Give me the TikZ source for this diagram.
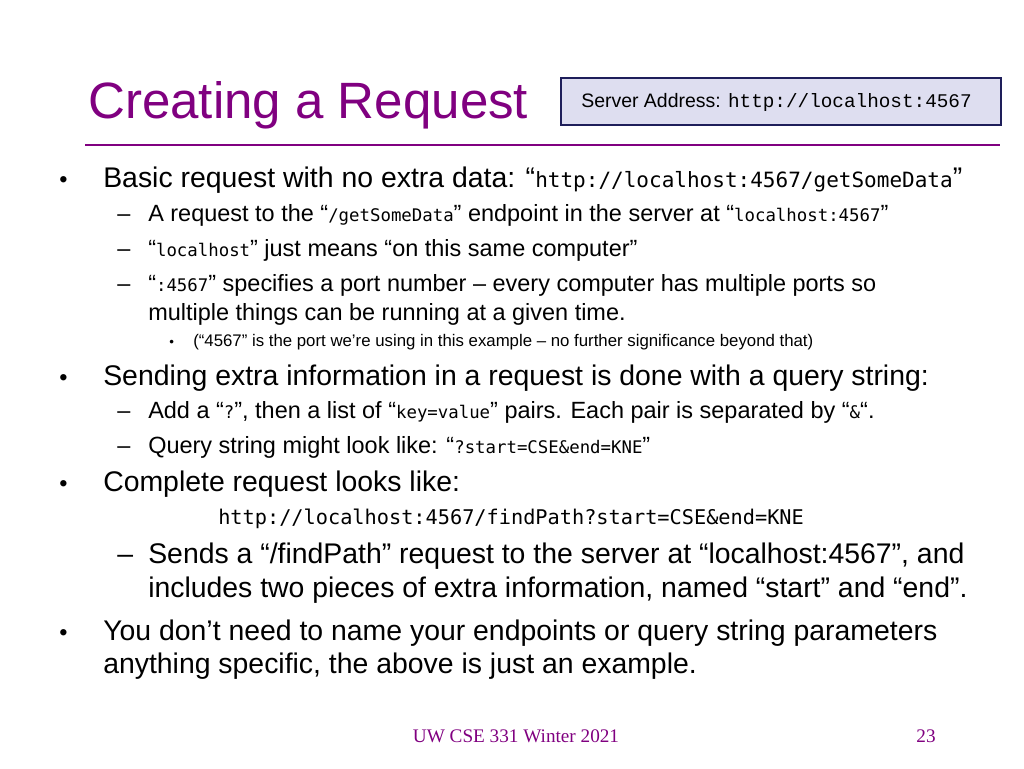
\documentclass[tikz,border=0pt]{standalone}
\usepackage{fontspec}
\setmainfont{Liberation Sans}
\newfontfamily\tms{Liberation Serif}
\newfontfamily\cour{Liberation Mono}
\newfontfamily\cns{DejaVu Sans Mono}[Scale=0.74]
\newfontfamily\cnsb{DejaVu Sans Mono}
\definecolor{ttl}{RGB}{128,0,128}
\definecolor{boxf}{RGB}{222,222,240}
\definecolor{boxd}{RGB}{30,30,90}
\newcommand{\cd}[1]{{\cns #1}}
\begin{document}
\begin{tikzpicture}[x=0.75pt,y=-0.75pt,
  t/.style={anchor=base west,inner sep=0pt},
  la/.style={t,font=\fontsize{21.3}{24}\selectfont},
  lb/.style={t,font=\fontsize{17.6}{20}\selectfont},
  lc/.style={t,font=\fontsize{12.6}{14}\selectfont}]
\useasboundingbox (0,0) rectangle (1024,768);
\node[t,text=ttl,font=\fontsize{38.3}{42}\selectfont] (title) at (88,118) {Creating a Request};
\draw[ttl,line width=2.2pt] (85,145) -- (1000,145);
\node[draw=boxd,fill=boxf,line width=1.5pt,minimum width=440*0.75pt,minimum height=47*0.75pt,anchor=north west] (box) at (560,77) {};
\node[t,font=\fontsize{14.6}{18}\selectfont] (addr) at (581,107) {Server Address: {\cour\fontsize{14.5}{18}\selectfont http://localhost:4567}};
\foreach \y/\n in {187/b1,385/b2,491/b3,640/b4} \node[lb] (\n) at (59,\y) {•};
\node[la] (l1) at (103,187) {Basic request with no extra data: “\cd{http://localhost:4567/getSomeData}”};
\foreach \y/\n in {221/d1,256/d2,291/d3,418/d4,453/d5} \node[lb] (\n) at (117,\y) {–};
\node[la] (d6) at (117,563) {–};
\node[lb] (l2) at (148,221) {A request to the “\cd{/getSomeData}” endpoint in the server at “\cd{localhost:4567}”};
\node[lb] (l3) at (148,256) {“\cd{localhost}” just means “on this same computer”};
\node[lb] (l4) at (148,291) {“\cd{:4567}” specifies a port number – every computer has multiple ports so};
\node[lb] (l5) at (148,320) {multiple things can be running at a given time.};
\node[t,font=\fontsize{10}{11}\selectfont] (b5) at (169,346) {•};
\node[lc] (l6) at (193,346) {(“4567” is the port we’re using in this example – no further significance beyond that)};
\node[la] (l7) at (103,385) {Sending extra information in a request is done with a query string:};
\node[lb] (l8) at (148,418) {Add a “\cd{?}”, then a list of “\cd{key=value}” pairs. Each pair is separated by “\cd{\&}“.};
\node[lb] (l9) at (148,453) {Query string might look like: “\cd{?start=CSE\&end=KNE}”};
\node[la] (l10) at (103,491) {Complete request looks like:};
\node[t,font=\fontsize{17.6}{20}\selectfont] (l11) at (218,524) {\cnsb\fontsize{15.2}{18}\selectfont http://localhost:4567/findPath?start=CSE\&end=KNE};
\node[la] (l12) at (148,563) {Sends a “/findPath” request to the server at “localhost:4567”, and};
\node[la] (l13) at (148,597) {includes two pieces of extra information, named “start” and “end”.};
\node[la] (l14) at (103,640) {You don’t need to name your endpoints or query string parameters};
\node[la] (l15) at (103,673) {anything specific, the above is just an example.};
\node[anchor=base,inner sep=0pt,text=ttl,font=\tms\fontsize{14.4}{16}\selectfont] (foot) at (516,742) {UW CSE 331 Winter 2021};
\node[anchor=base,inner sep=0pt,text=ttl,font=\tms\fontsize{14.4}{16}\selectfont] (pg) at (926,742) {23};
\end{tikzpicture}
\end{document}
